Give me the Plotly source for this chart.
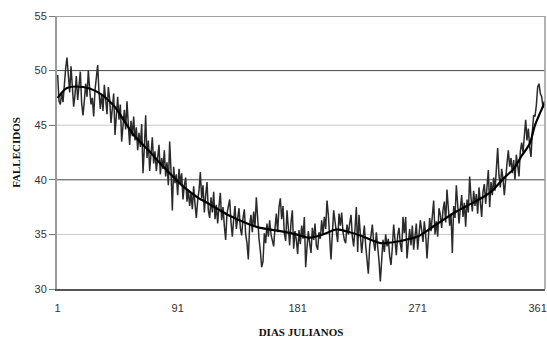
import plotly.graph_objects as go

# Daily deaths (noisy series), day 1..366
deaths = [
    49.6, 47.2, 46.9, 48.0, 47.1, 49.0, 50.2, 51.2, 49.3, 48.0,
    50.4, 48.9, 46.7, 47.8, 49.5, 47.3, 48.6, 49.9, 47.0, 45.9,
    47.2, 48.8, 47.6, 50.0, 48.3, 46.9, 47.5, 45.8, 48.2, 49.6,
    50.5, 48.0, 46.5, 47.9, 46.3, 48.7, 47.1, 46.0, 48.5, 47.4,
    45.2, 46.8, 47.9, 44.1, 46.0, 47.6, 45.5, 46.9, 43.5, 45.3,
    46.4, 44.6, 47.2, 45.0, 43.2, 45.4, 44.0, 45.8, 43.6, 44.8,
    42.7, 44.3, 43.0, 45.1, 40.6, 42.9, 45.9, 42.0, 43.6, 40.8,
    42.3, 43.9, 41.5, 42.6, 40.8, 41.9, 43.2, 40.5, 42.0, 41.0,
    42.7, 40.3, 41.6, 39.5, 43.5, 40.8, 37.2, 41.2, 39.7, 40.5,
    38.6, 41.0, 39.6, 40.6, 38.2, 39.5, 40.2, 38.0, 39.1, 37.6,
    38.8, 37.3, 39.4, 37.8, 36.5, 38.1, 39.0, 40.7, 38.3, 39.5,
    37.0, 38.6, 39.8, 37.2, 36.5, 38.4, 37.0, 38.9, 36.4, 37.7,
    36.0, 37.6, 38.8, 36.3, 37.5, 35.8, 34.5, 36.9, 37.8, 38.2,
    36.1, 34.8, 36.4, 37.6, 35.5, 36.8, 37.4, 35.6, 34.9, 36.5,
    37.3, 35.0, 34.2, 32.7, 35.9, 36.8, 35.2, 37.1, 35.7, 38.4,
    36.0, 34.6, 33.5, 32.0, 32.5, 35.1, 34.2, 36.0, 34.8, 36.3,
    35.0, 34.3, 33.9, 35.6, 36.9, 35.2, 37.5, 38.3, 36.4, 37.6,
    35.1, 34.4, 37.2, 35.6, 34.0, 36.1, 37.2, 33.7, 35.3, 34.5,
    33.2, 35.4, 34.1, 35.8, 34.6, 36.6, 32.0, 33.8, 35.3, 34.2,
    33.3, 35.6, 34.5, 36.0, 34.0, 33.6, 35.2, 34.6, 36.3, 35.0,
    36.6, 35.5, 38.1, 36.8, 34.4, 32.7, 35.0, 37.2, 36.2, 35.4,
    34.3, 36.9, 35.8, 37.0, 35.2, 34.5, 34.2, 35.9, 35.0, 36.0,
    36.8, 34.8, 33.9, 35.5, 37.5, 33.4, 36.8, 35.0, 33.3, 34.6,
    35.8, 34.0, 32.8, 31.4, 33.9, 34.8, 35.9, 34.3, 33.5, 35.2,
    34.0, 32.6, 30.7, 32.2, 34.5, 33.4, 35.0, 33.9, 34.6, 33.0,
    32.2, 33.8, 35.9, 34.5, 33.1, 34.9, 35.6, 34.1, 33.4, 36.6,
    35.1, 36.6, 32.8, 34.2, 35.5, 34.0, 35.8, 33.6, 35.0, 36.0,
    33.6, 34.9, 36.3, 35.4, 34.3, 36.2, 35.0, 32.8, 34.6, 36.5,
    35.3, 36.9, 38.1, 35.0, 36.2, 34.8, 37.4, 36.8, 35.6, 37.2,
    38.0, 36.1, 39.1, 37.4, 35.8, 36.9, 33.3, 37.6, 36.5, 39.5,
    37.8, 36.0, 37.4, 38.6, 36.6, 37.9, 35.7, 38.2, 37.0, 40.3,
    38.4, 37.1, 39.0, 37.6, 38.7, 36.9, 39.3, 38.0, 36.6, 38.9,
    39.6, 37.8, 39.2, 40.9, 37.5, 39.8, 38.6, 40.2, 39.0, 41.3,
    42.9, 40.4, 39.3, 41.0, 40.1, 38.6, 40.5, 41.5, 42.7, 41.2,
    42.0, 40.6, 41.8, 40.0, 42.3, 41.4, 40.3, 42.6, 43.4, 42.5,
    44.1, 45.5, 43.6, 44.7, 43.0, 42.1, 44.4, 45.9, 45.8, 46.8,
    48.5, 48.8, 47.9, 47.6, 46.6, 47.2,
]
days = list(range(1, len(deaths) + 1))

# Smoothed curve, read at selected days
smooth_days = [1, 8, 20, 30, 43, 58, 70, 78, 90, 96, 107, 113, 130, 145, 153,
               168, 180, 190, 200, 210, 220, 228, 243, 256, 265, 271, 286, 300,
               314, 325, 336, 343, 349, 355, 359, 366]
smooth_vals = [47.5, 48.4, 48.5, 48.1, 46.8, 44.1, 42.6, 41.5, 40.0, 39.3, 38.3,
               37.9, 36.7, 35.9, 35.6, 35.3, 35.0, 34.7, 35.0, 35.45, 35.2, 34.9,
               34.2, 34.35, 34.6, 34.8, 36.0, 37.1, 38.0, 38.8, 40.2, 41.0, 42.2,
               43.3, 45.0, 47.0]

x_ticks = [1, 91, 181, 271, 361]
y_ticks = [30, 35, 40, 45, 50, 55]
dark_grid = [40, 50, 55]
light_grid = [35, 45]

fig = go.Figure()
fig.add_trace(go.Scatter(x=days, y=deaths, mode="lines",
                         line=dict(color="#2a2a2a", width=1.5),
                         showlegend=False, hoverinfo="skip"))
fig.add_trace(go.Scatter(x=smooth_days, y=smooth_vals, mode="lines",
                         line=dict(color="#000000", width=2.2, shape="spline", smoothing=0.8),
                         showlegend=False, hoverinfo="skip"))

for g in dark_grid:
    fig.add_shape(type="line", xref="paper", x0=0, x1=1, yref="y", y0=g, y1=g,
                  line=dict(color="#444444", width=1), layer="below")
for g in light_grid:
    fig.add_shape(type="line", xref="paper", x0=0, x1=1, yref="y", y0=g, y1=g,
                  line=dict(color="#c8c8c8", width=1), layer="below")
# right border
fig.add_shape(type="line", xref="paper", x0=1, x1=1, yref="paper", y0=0, y1=1,
              line=dict(color="#9a9a9a", width=1.5))

fig.update_layout(
    width=547, height=340,
    margin=dict(l=57, r=2, t=16, b=51),
    paper_bgcolor="white", plot_bgcolor="white",
    font=dict(family="Liberation Sans, Arial", size=11, color="#333333"),
    xaxis=dict(range=[0.5, 366.5], tickvals=x_ticks, ticktext=[str(t) for t in x_ticks],
               showgrid=False, zeroline=False, showline=True, linecolor="#555555", linewidth=1.5,
               ticks="", ticklabelstandoff=8, automargin=False,
               title=dict(text="<b>DIAS JULIANOS</b>", standoff=15,
                          font=dict(family="Liberation Serif, Times New Roman", size=11, color="#111111"))),
    yaxis=dict(range=[30, 55], tickvals=y_ticks, showgrid=False, zeroline=False,
               showline=True, linecolor="#9a9a9a", linewidth=2, automargin=False,
               ticks="outside", ticklen=6, tickcolor="#777777",
               title=dict(text="<b>FALLECIDOS</b>", standoff=12,
                          font=dict(family="Liberation Serif, Times New Roman", size=11, color="#111111"))),
)

fig.write_html("out.html", config={"displayModeBar": False},
               post_script="document.body.style.margin='0';document.body.style.overflow='hidden';")
